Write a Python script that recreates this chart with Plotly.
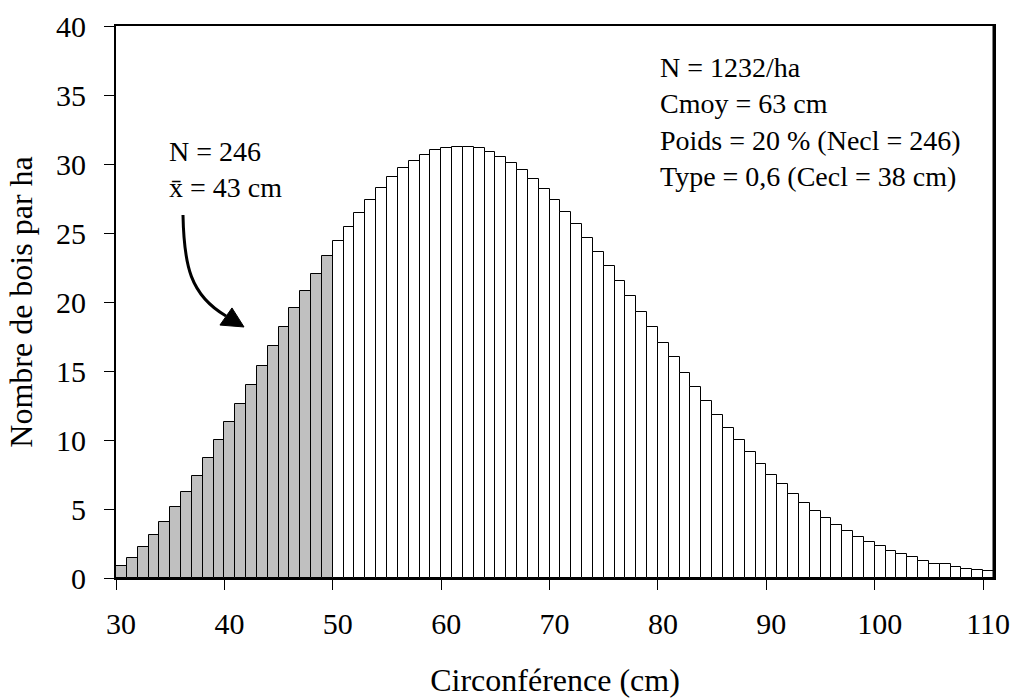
import plotly.graph_objects as go

# ---- data ----
circ_grey = list(range(30, 50))          # class lower bounds (cm), shaded part
n_grey = [0.88, 1.44, 2.25, 3.11, 4.08, 5.14, 6.22, 7.42, 8.69, 10.0,
          11.28, 12.61, 14.0, 15.39, 16.78, 18.17, 19.53, 20.81, 22.06, 23.33]

circ_white = list(range(50, 111))        # class lower bounds (cm), unshaded part
n_white = [24.39, 25.47, 26.46, 27.4, 28.27, 29.04, 29.69, 30.19, 30.65, 30.99,
           31.18, 31.25, 31.25, 31.13, 30.87, 30.5, 30.05, 29.57, 28.92, 28.17,
           27.4, 26.55, 25.64, 24.65, 23.64, 22.6, 21.54, 20.41, 19.27, 18.16,
           17.06, 15.98, 14.89, 13.83, 12.82, 11.81, 10.84, 9.98, 9.11, 8.24,
           7.47, 6.80, 6.10, 5.45, 4.89, 4.34, 3.83, 3.40, 2.96, 2.60,
           2.31, 1.95, 1.73, 1.49, 1.23, 1.05, 0.98, 0.79, 0.68, 0.61,
           0.5]

x_ticks = [30, 40, 50, 60, 70, 80, 90, 100, 110]
y_ticks = [0, 5, 10, 15, 20, 25, 30, 35, 40]

x_title = "Circonférence (cm)"
y_title = "Nombre de bois par ha"
info_text = "N = 1232/ha<br>Cmoy = 63 cm<br>Poids = 20 % (Necl = 246)<br>Type = 0,6 (Cecl = 38 cm)"
group_text = "N = 246<br>x\u0304 = 43 cm"

FONT = "Liberation Serif, Times New Roman, serif"

fig = go.Figure()
fig.add_bar(x=circ_grey, y=n_grey, width=1, offset=0,
            marker=dict(color="#C0C0C0", line=dict(color="black", width=1)))
fig.add_bar(x=circ_white, y=n_white, width=1, offset=0,
            marker=dict(color="white", line=dict(color="black", width=1)))

axis_common = dict(showgrid=False, zeroline=False, showline=True, mirror=True,
                   linecolor="black", linewidth=2, ticks="outside", ticklen=10,
                   tickwidth=1, tickcolor="black", automargin=False,
                   tickfont=dict(family=FONT, size=30, color="black"))

fig.update_layout(
    width=1016, height=698,
    margin=dict(l=116, r=22, t=26, b=120, pad=0),
    paper_bgcolor="white", plot_bgcolor="white",
    showlegend=False, bargap=0, barmode="overlay",
    font=dict(family=FONT, color="black"),
    xaxis=dict(range=[30, 111], tickvals=x_ticks, ticklabelstandoff=8,
               ticklabelshift=5,
               title=dict(text=x_title, font=dict(family=FONT, size=32), standoff=32),
               **axis_common),
    yaxis=dict(range=[0, 40], tickvals=y_ticks, ticklabelstandoff=12,
               title=dict(text=y_title, font=dict(family=FONT, size=32), standoff=14),
               **axis_common),
)

fig.add_annotation(xref="paper", yref="paper", x=0.617, y=0.9565,
                   xanchor="left", yanchor="top", align="left", showarrow=False,
                   text=info_text, font=dict(family=FONT, size=28, color="black"))
fig.add_annotation(xref="paper", yref="paper", x=0.058, y=0.805,
                   xanchor="left", yanchor="top", align="left", showarrow=False,
                   text=group_text, font=dict(family=FONT, size=28, color="black"))

# curved arrow
fig.add_shape(type="path", xref="x", yref="y",
              path="M 36.18,26.30 C 36.27,22.68 36.83,20.51 40.15,18.99",
              line=dict(color="black", width=3))
fig.add_shape(type="path", xref="x", yref="y",
              path="M 40.70,19.57 L 39.59,18.33 L 41.81,18.19 Z",
              fillcolor="black", line=dict(color="black", width=1))

# heavier right border, as in the reference
fig.add_shape(type="line", xref="paper", yref="paper", x0=1, x1=1, y0=0, y1=1,
              line=dict(color="black", width=3))

fig.write_html("out.html")
